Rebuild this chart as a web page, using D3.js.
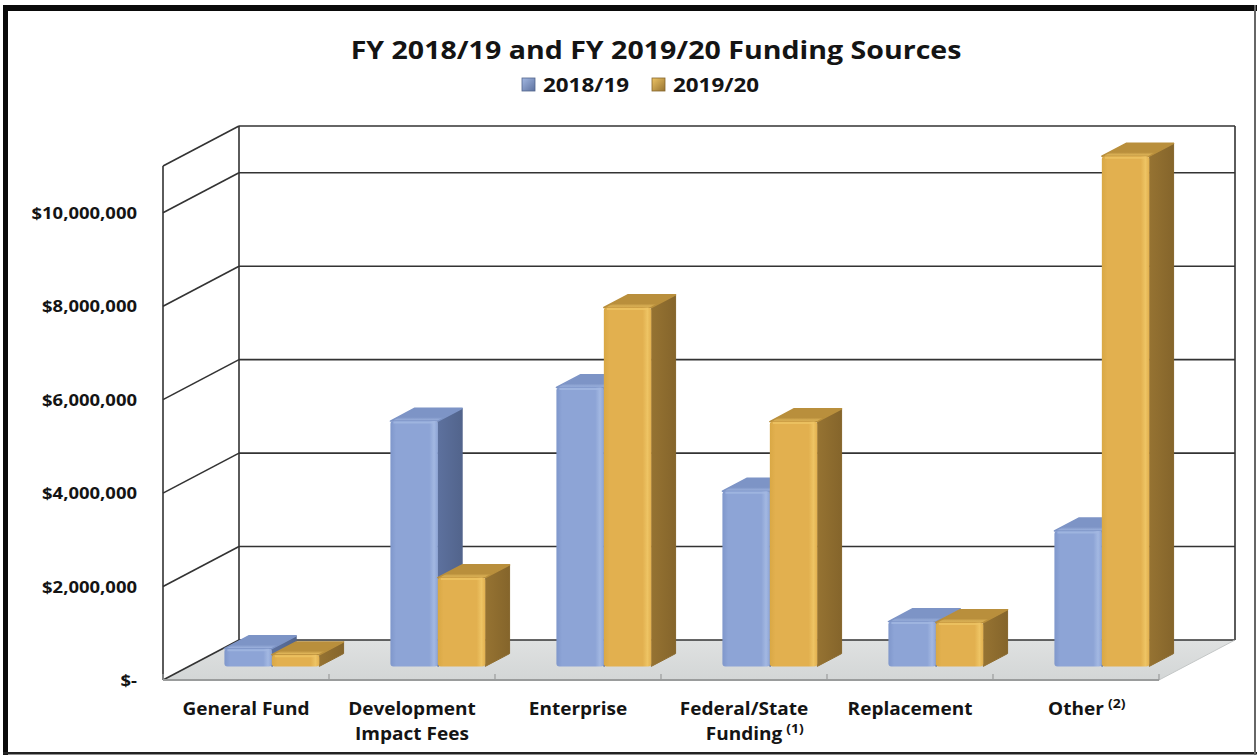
<!DOCTYPE html>
<html>
<head>
<meta charset="utf-8">
<script src="https://cdn.jsdelivr.net/npm/d3@7"></script>
<style>
  body { margin: 0; background: #fff; }
  svg { display: block; }
  text { font-family: "Open Sans", sans-serif; font-weight: 700; fill: #141414; }
</style>
</head>
<body>
<svg id="chart" width="1257" height="756"></svg>
<script>
// ---- data ----
const categories = ["General Fund", "Development Impact Fees", "Enterprise", "Federal/State Funding", "Replacement", "Other"];
const categoryLines = [["General Fund"], ["Development", "Impact Fees"], ["Enterprise"], ["Federal/State", "Funding"], ["Replacement"], ["Other"]];
const footnotes = ["", "", "", "(1)", "", "(2)"];
const series = ["2018/19", "2019/20"];
const values2018 = [380000, 5250000, 5970000, 3750000, 960000, 2900000];
const values2019 = [250000, 1900000, 7680000, 5240000, 940000, 10920000];
const yTicks = [0, 2000000, 4000000, 6000000, 8000000, 10000000];
const yTickLabels = ["$-", "$2,000,000", "$4,000,000", "$6,000,000", "$8,000,000", "$10,000,000"];
const yMax = 11000000;
const title = "FY 2018/19 and FY 2019/20 Funding Sources";

// ---- layout ----
const svg = d3.select("#chart");
const W = 1257, H = 756;
const X0 = 163, X1 = 1159, Y0 = 680, YTOP = 166;   // front plane of the plot box
const DX = 76, DY = -40;                            // depth vector of the box
const ZF = 0.34, ZB = 0.66;                         // front / back depth of the bars
const SX = 1.12;                                    // horizontal text stretch

const x = d3.scaleBand().domain(categories).range([X0, X1]);
const bw = x.bandwidth();
const xs = d3.scaleBand().domain(series).range([bw * 0.75 / 3.5, bw * 2.75 / 3.5]);
const y = d3.scaleLinear().domain([0, yMax]).range([Y0, YTOP]);
const P = (px, v, z) => [px + DX * z, y(v) + DY * z];

const colors = {
  "2018/19": { front: "#8da4d6", light: "#a3b8e2", dark: "#7f97cb", top: "#7d94c6", side: "#5d719e", sideDark: "#52648c" },
  "2019/20": { front: "#e2b04f", light: "#eec464", dark: "#d9a845", top: "#b98f3c", side: "#967332", sideDark: "#85652b" }
};

const defs = svg.append("defs");
series.forEach((s, i) => {
  const c = colors[s];
  const gf = defs.append("linearGradient").attr("id", "front" + i).attr("x1", 0).attr("x2", 1).attr("y1", 0).attr("y2", 0);
  gf.append("stop").attr("offset", 0).attr("stop-color", c.dark);
  gf.append("stop").attr("offset", 0.12).attr("stop-color", c.front);
  gf.append("stop").attr("offset", 0.82).attr("stop-color", c.front);
  gf.append("stop").attr("offset", 0.92).attr("stop-color", c.light);
  gf.append("stop").attr("offset", 1).attr("stop-color", c.front);
  const gs = defs.append("linearGradient").attr("id", "side" + i).attr("x1", 0).attr("x2", 1).attr("y1", 0).attr("y2", 0);
  gs.append("stop").attr("offset", 0).attr("stop-color", c.side);
  gs.append("stop").attr("offset", 1).attr("stop-color", c.sideDark);
  const gt = defs.append("linearGradient").attr("id", "top" + i).attr("x1", 0).attr("x2", 0).attr("y1", 1).attr("y2", 0);
  gt.append("stop").attr("offset", 0).attr("stop-color", c.light);
  gt.append("stop").attr("offset", 0.3).attr("stop-color", c.top);
  gt.append("stop").attr("offset", 1).attr("stop-color", c.top);
  const gl = defs.append("linearGradient").attr("id", "leg" + i).attr("x1", 0).attr("x2", 1).attr("y1", 0).attr("y2", 1);
  gl.append("stop").attr("offset", 0).attr("stop-color", c.light);
  gl.append("stop").attr("offset", 1).attr("stop-color", c.side);
});
const gFloor = defs.append("linearGradient").attr("id", "floor").attr("x1", 0).attr("x2", 0).attr("y1", 0).attr("y2", 1);
gFloor.append("stop").attr("offset", 0).attr("stop-color", "#dfe1e1");
gFloor.append("stop").attr("offset", 1).attr("stop-color", "#d3d6d6");

// stretched text helper
function label(g, tx, ty, str, size, anchor) {
  return g.append("text")
    .attr("transform", `translate(${tx},${ty}) scale(${SX},1)`)
    .attr("text-anchor", anchor || "middle")
    .style("font-size", size + "px")
    .text(str);
}

// ---- outer frame ----
svg.append("rect").attr("x", 0).attr("y", 0).attr("width", W).attr("height", H).attr("fill", "#fff");
const frame = svg.append("g");
frame.append("rect").attr("x", 3).attr("y", 5).attr("width", 1254).attr("height", 6).attr("fill", "#0a0a0a");
frame.append("rect").attr("x", 3).attr("y", 5).attr("width", 5).attr("height", 750).attr("fill", "#0a0a0a");
frame.append("rect").attr("x", 3).attr("y", 752).attr("width", 1254).attr("height", 2.5).attr("fill", "#222");
frame.append("rect").attr("x", 1254).attr("y", 5).attr("width", 2).attr("height", 750).attr("fill", "#666");

// ---- title & legend ----
label(svg, 656, 59, title, 25.5);
const legend = svg.append("g");
const legX = [522, 652];
series.forEach((s, i) => {
  legend.append("rect").attr("x", legX[i]).attr("y", 78).attr("width", 13).attr("height", 13)
    .attr("fill", `url(#leg${i})`).attr("stroke", colors[s].sideDark).attr("stroke-width", 0.8);
  label(legend, legX[i] + 21, 92, s, 20, "start");
});

// ---- walls & floor ----
const line = d3.line();
const walls = svg.append("g").attr("fill", "none").attr("stroke", "#333").attr("stroke-width", 1.6);

svg.insert("path", "g")
  .attr("d", line([P(X0, 0, 0), P(X1, 0, 0), P(X1, 0, 1), P(X0, 0, 1)]) + "Z")
  .attr("fill", "url(#floor)");

const gridVals = yTicks.concat([yMax]);
gridVals.forEach(t => {
  walls.append("path").attr("d", line([P(X0, t, 0), P(X0, t, 1)]));
  walls.append("path").attr("d", line([P(X0, t, 1), P(X1, t, 1)]));
});
walls.append("path").attr("d", line([P(X0, 0, 0), P(X0, yMax, 0)]));
walls.append("path").attr("d", line([P(X0, 0, 1), P(X0, yMax, 1)]));
walls.append("path").attr("d", line([P(X1, 0, 1), P(X1, yMax, 1)]));

// floor front edge and category ticks
const edge = svg.append("g").attr("stroke", "#9a9c9c").attr("fill", "none");
edge.append("path").attr("d", line([P(X0, 0, 0), P(X1, 0, 0)])).attr("stroke-width", 2);
edge.append("path").attr("d", line([P(X1, 0, 0), P(X1, 0, 1)])).attr("stroke", "#c4c7c7").attr("stroke-width", 1);
d3.range(categories.length + 1).forEach(k => {
  const px = X0 + k * bw;
  edge.append("path").attr("d", line([[px, Y0 - 6], [px, Y0]])).attr("stroke-width", 1.2);
});

// ---- y axis labels ----
const yAxis = svg.append("g");
yTicks.forEach((t, i) => {
  label(yAxis, 137, y(t) + 6, yTickLabels[i], 16.5, "end");
});

// ---- bars ----
const bars = svg.append("g");
const rows = [];
categories.forEach((c, ci) => {
  rows.push({ cat: c, s: series[0], si: 0, v: values2018[ci] });
  rows.push({ cat: c, s: series[1], si: 1, v: values2019[ci] });
});
rows.forEach(d => {
  const xa = x(d.cat) + xs(d.s);
  const xb = xa + xs.bandwidth();
  const g = bars.append("g");
  // side face
  g.append("path")
    .attr("d", line([P(xb, d.v, ZF), P(xb, 0, ZF), P(xb, 0, ZB), P(xb, d.v, ZB)]) + "Z")
    .attr("fill", `url(#side${d.si})`)
    .attr("stroke", `url(#side${d.si})`).attr("stroke-width", 1).attr("stroke-linejoin", "round");
  // top face
  g.append("path")
    .attr("d", line([P(xa, d.v, ZF), P(xb, d.v, ZF), P(xb, d.v, ZB), P(xa, d.v, ZB)]) + "Z")
    .attr("fill", `url(#top${d.si})`)
    .attr("stroke", colors[d.s].top).attr("stroke-width", 1.5).attr("stroke-linejoin", "round");
  // front face
  const f0 = P(xa, d.v, ZF), f1 = P(xb, 0, ZF);
  g.append("rect")
    .attr("x", f0[0]).attr("y", f0[1])
    .attr("width", f1[0] - f0[0]).attr("height", Math.max(0, f1[1] - f0[1]))
    .attr("rx", 3).attr("ry", 3)
    .attr("fill", `url(#front${d.si})`);
  // bevel highlight along the top edge
  g.append("path")
    .attr("d", line([[f0[0] + 3, f0[1] + 1.5], [f1[0] - 3, f0[1] + 1.5]]))
    .attr("stroke", colors[d.s].light).attr("stroke-width", 2).attr("opacity", 0.8);
});

// ---- category labels ----
const catG = svg.append("g");
categories.forEach((c, ci) => {
  const cx = x(c) + bw / 2;
  const lines = categoryLines[ci];
  lines.forEach((ln, li) => {
    const t = label(catG, cx, 715 + li * 25, ln, 17);
    if (li === lines.length - 1 && footnotes[ci]) {
      const w = t.node().getComputedTextLength() * SX;
      label(catG, cx + w / 2 + 4, 715 + li * 25 - 7, footnotes[ci], 12.5, "start");
    }
  });
});
</script>
</body>
</html>
